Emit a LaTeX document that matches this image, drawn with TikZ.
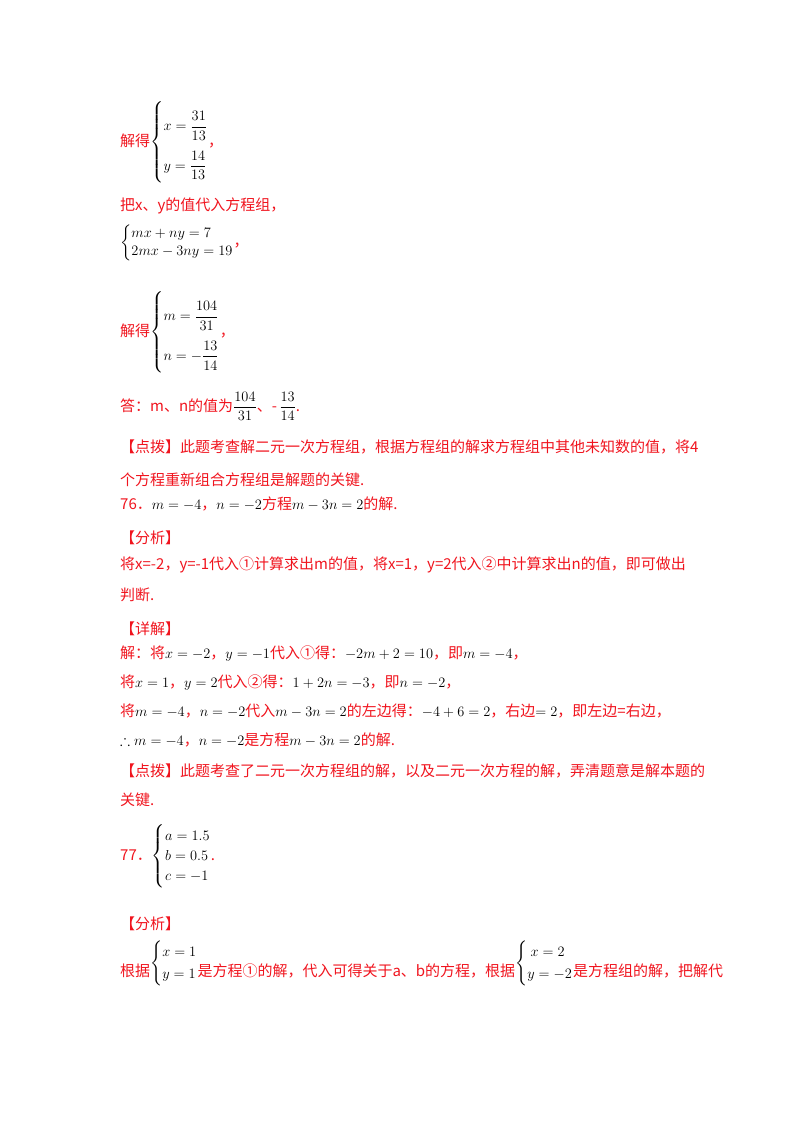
\documentclass[tikz,border=0pt]{standalone}
\usepackage{fontspec}
\usepackage{amsmath,amssymb}
\newfontfamily\cjk{Noto Sans CJK SC}
\definecolor{rd}{RGB}{240,20,30}
\newcommand\mm[1]{\textcolor{black}{$#1$}}
\newcommand\sys[2]{\textcolor{black}{$\renewcommand\arraystretch{#1}\left\{\begin{array}{@{}l@{}}#2\end{array}\right.$}}
\newcommand\bsys[2]{\textcolor{black}{\raisebox{0.62em}{$\renewcommand\arraystretch{#1}\left\{\begin{array}{@{}l@{}}#2\end{array}\right.$}}}
\tikzset{ln/.style={anchor=base west,inner sep=0pt,text=rd,font=\cjk\fontsize{15}{18}\selectfont}}
\begin{document}
\begin{tikzpicture}[x=1pt,y=-1pt]
\useasboundingbox (0,0) rectangle (800,1132);
\node[ln] (a1) at (120,146) {解得\sys{2.2}{x=\dfrac{31}{13}\\ y=\dfrac{14}{13}}，};
\node[ln] (a2) at (120,210) {把x、y的值代入方程组，};
\node[ln] (a3) at (120,246) {\sys{1}{mx+ny=7\\ 2mx-3ny=19}，};
\node[ln] (a4) at (120,336) {解得\sys{2.2}{m=\dfrac{104}{31}\\ n=-\dfrac{13}{14}}，};
\node[ln] (a5) at (120,411) {答：m、n的值为\mm{\dfrac{104}{31}}、-\,\mm{\dfrac{13}{14}}.};
\node[ln] (a6) at (120,452) {【点拨】此题考查解二元一次方程组，根据方程组的解求方程组中其他未知数的值，将4};
\node[ln] (a7) at (120,485) {个方程重新组合方程组是解题的关键.};
\node[ln] (a8) at (120,509) {76．\mm{m=-4}，\mm{n=-2}方程\mm{m-3n=2}的解.};
\node[ln] (a9) at (120,543) {【分析】};
\node[ln] (b1) at (120,569) {将x=-2，y=-1代入①计算求出m的值，将x=1，y=2代入②中计算求出n的值，即可做出};
\node[ln] (b2) at (120,600) {判断.};
\node[ln] (b3) at (120,634) {【详解】};
\node[ln] (b4) at (120,658) {解：将\mm{x=-2}，\mm{y=-1}代入①得：\mm{-2m+2=10}，即\mm{m=-4}，};
\node[ln] (b5) at (120,687) {将\mm{x=1}，\mm{y=2}代入②得：\mm{1+2n=-3}，即\mm{n=-2}，};
\node[ln] (b6) at (120,716) {将\mm{m=-4}，\mm{n=-2}代入\mm{m-3n=2}的左边得：\mm{-4+6=2}，右边\mm{=2}，即左边=右边，};
\node[ln] (b7) at (120,745) {\mm{\therefore m=-4}，\mm{n=-2}是方程\mm{m-3n=2}的解.};
\node[ln] (b8) at (120,776) {【点拨】此题考查了二元一次方程组的解，以及二元一次方程的解，弄清题意是解本题的};
\node[ln] (b9) at (120,805) {关键.};
\node[ln] (c1) at (120,860) {77．\sys{1.1}{a=1.5\\ b=0.5\\ c=-1}.};
\node[ln] (c2) at (120,929) {【分析】};
\node[ln] (c3) at (120,976) {根据\bsys{1.2}{x=1\\ y=1}是方程①的解，代入可得关于a、b的方程，根据\bsys{1.2}{\ x=2\\ y=-2}是方程组的解，把解代};
\end{tikzpicture}
\end{document}
